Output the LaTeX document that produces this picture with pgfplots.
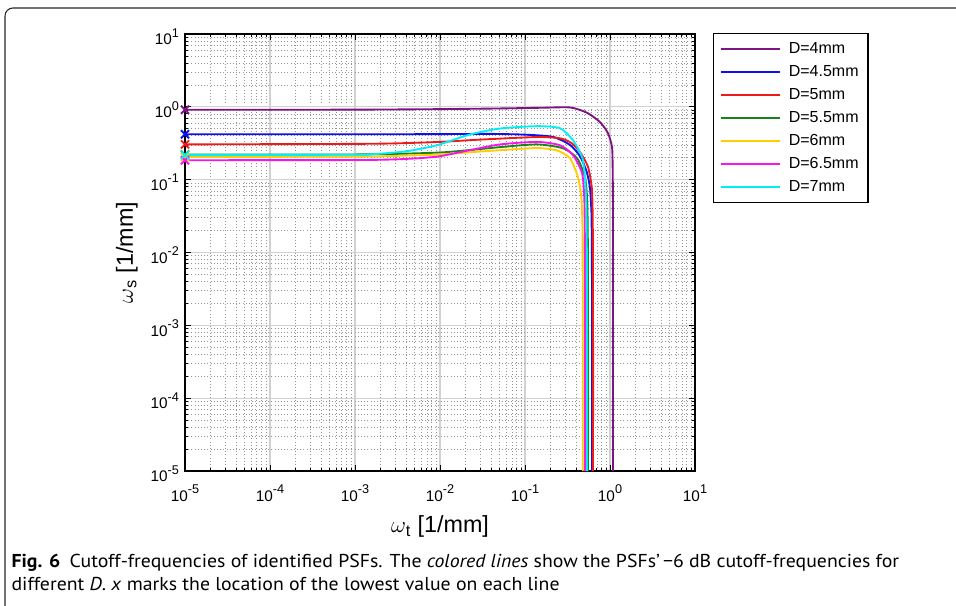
\documentclass[border=0pt]{standalone}
\usepackage{pgfplots}
\pgfplotsset{compat=1.18}
\usepackage{fontspec}
\setmainfont{Liberation Sans}
\newfontfamily\capfont[FakeStretch=1.06]{PT Sans}
\definecolor{cpurple}{RGB}{125,20,130}
\definecolor{cblue}{RGB}{15,15,240}
\definecolor{cred}{RGB}{240,25,25}
\definecolor{cgreen}{RGB}{25,130,25}
\definecolor{cyellow}{RGB}{255,205,0}
\definecolor{cmagenta}{RGB}{250,20,235}
\definecolor{ccyan}{RGB}{0,238,250}
\newcommand\tl[1]{10\raisebox{0.5em}{\fontsize{9.5}{10}\selectfont #1}}
\begin{document}
\begin{tikzpicture}
\path[use as bounding box] (0,0) rectangle (717pt,454.5pt);
\draw[black!85, line width=0.8pt, rounded corners=6pt] (3.75pt,-2pt) -- (3.75pt,448.5pt) -- (720pt,448.5pt);
\begin{loglogaxis}[
  at={(138.75pt,101.25pt)}, anchor=south west,
  scale only axis, width=382.5pt, height=327.75pt,
  xmin=1e-5, xmax=10, ymin=1e-5, ymax=10,
  clip=false,
  xtick={1e-5,1e-4,1e-3,1e-2,1e-1,1,10},
  xticklabels={\tl{-5},\tl{-4},\tl{-3},\tl{-2},\tl{-1},\tl{0},\tl{1}},
  ytick={1e-5,1e-4,1e-3,1e-2,1e-1,1,10},
  yticklabels={\tl{-5},\tl{-4},\tl{-3},\tl{-2},\tl{-1},\tl{0},\tl{1}},
  tick label style={font=\fontsize{11.5}{13}\selectfont},
  xticklabel style={yshift=-7pt},
  yticklabel style={xshift=-1pt, yshift=-2pt},
  grid=both,
  major grid style={black!18, line width=0.8pt},
  minor grid style={black!42, dotted, line width=0.5pt},
  major tick length=4.5pt, minor tick length=2.5pt,
  tick style={black, line width=0.6pt},
  axis line style={black, line width=1pt},
  xlabel={$\omega$\textsubscript{t} [1/mm]},
  ylabel={$\omega$\textsubscript{s} [1/mm]},
  label style={font=\fontsize{17.5}{20}\selectfont},
  xlabel style={at={(axis description cs:0.5,-0.128)}, anchor=center},
  ylabel style={at={(axis description cs:-0.114,0.5)}, anchor=center},
  legend style={at={(axis description cs:1.035,1.003)}, anchor=north west,
    draw=black, line width=0.9pt, fill=white, font=\fontsize{12}{14}\selectfont,
    row sep=3.4pt, inner sep=5pt, cells={anchor=west}},
  legend image code/.code={\draw[#1] (2pt,0pt) -- (46pt,0pt); \path (50pt,0pt);},
  every axis plot/.append style={line width=1.4pt, smooth, tension=0.4, mark=x, mark indices={1}, mark size=4.3pt, mark options={line width=1.4pt, solid}},
]
\addlegendimage{cpurple, line width=1.5pt}
\addlegendimage{cblue, line width=1.5pt}
\addlegendimage{cred, line width=1.5pt}
\addlegendimage{cgreen, line width=1.5pt}
\addlegendimage{cyellow, line width=1.5pt}
\addlegendimage{cmagenta, line width=1.5pt}
\addlegendimage{ccyan, line width=1.5pt}
\legend{D=4mm,D=4.5mm,D=5mm,D=5.5mm,D=6mm,D=6.5mm,D=7mm}
\addplot[cpurple, forget plot] coordinates {(1e-5,0.91) (1e-3,0.915) (0.01,0.93) (0.05,0.95) (0.15,0.97) (0.34,0.98) (0.536,0.83) (0.76,0.62) (0.946,0.435) (1.057,0.279) (1.075,0.148) (1.083,0.05) (1.085,0.01) (1.085,1e-3) (1.085,1e-5)};
\addplot[cblue, forget plot] coordinates {(1e-5,0.42) (1e-3,0.42) (0.01,0.422) (0.04,0.425) (0.1,0.415) (0.213,0.387) (0.338,0.3) (0.443,0.21) (0.53,0.13) (0.58,0.079) (0.605,0.035) (0.612,0.01) (0.614,1e-3) (0.614,1e-5)};
\addplot[cred, forget plot] coordinates {(1e-5,0.305) (1e-3,0.31) (0.003,0.315) (0.01,0.33) (0.03,0.355) (0.138,0.385) (0.258,0.37) (0.35,0.32) (0.443,0.24) (0.551,0.15) (0.61,0.079) (0.625,0.035) (0.63,0.01) (0.632,1e-3) (0.632,1e-5)};
\addplot[cgreen, forget plot] coordinates {(1e-5,0.221) (1e-3,0.222) (0.003,0.226) (0.01,0.236) (0.0225,0.255) (0.051,0.28) (0.138,0.305) (0.28,0.27) (0.41,0.197) (0.508,0.108) (0.54,0.05) (0.55,0.01) (0.552,1e-3) (0.552,1e-5)};
\addplot[cyellow, forget plot] coordinates {(1e-5,0.205) (1e-3,0.207) (0.003,0.212) (0.01,0.222) (0.0225,0.238) (0.051,0.254) (0.138,0.272) (0.238,0.252) (0.338,0.197) (0.42,0.108) (0.46,0.057) (0.475,0.02) (0.478,1e-3) (0.478,1e-5)};
\addplot[cmagenta, forget plot] coordinates {(1e-5,0.185) (1e-3,0.186) (0.003,0.19) (0.006,0.198) (0.01,0.21) (0.0225,0.254) (0.051,0.305) (0.138,0.33) (0.258,0.297) (0.367,0.217) (0.47,0.122) (0.5,0.05) (0.507,0.01) (0.508,1e-3) (0.508,1e-5)};
\addplot[ccyan, forget plot] coordinates {(1e-5,0.217) (1e-3,0.22) (0.0015,0.222) (0.004,0.245) (0.0092,0.297) (0.0225,0.417) (0.051,0.504) (0.138,0.543) (0.258,0.509) (0.367,0.348) (0.47,0.203) (0.508,0.108) (0.528,0.04) (0.534,0.01) (0.536,1e-3) (0.536,1e-5)};
\end{loglogaxis}
\node[anchor=base west, inner sep=0pt] at (8.5pt,28.5pt) {\capfont\fontsize{14}{16}\selectfont\textbf{Fig. 6}\enspace Cutoff-frequencies of identified PSFs. The \textit{colored lines} show the PSFs’\,−6 dB cutoff-frequencies for};
\node[anchor=base west, inner sep=0pt] at (8.5pt,11.25pt) {\capfont\fontsize{14}{16}\selectfont different \textit{D}. \textit{x} marks the location of the lowest value on each line};
\end{tikzpicture}
\end{document}
